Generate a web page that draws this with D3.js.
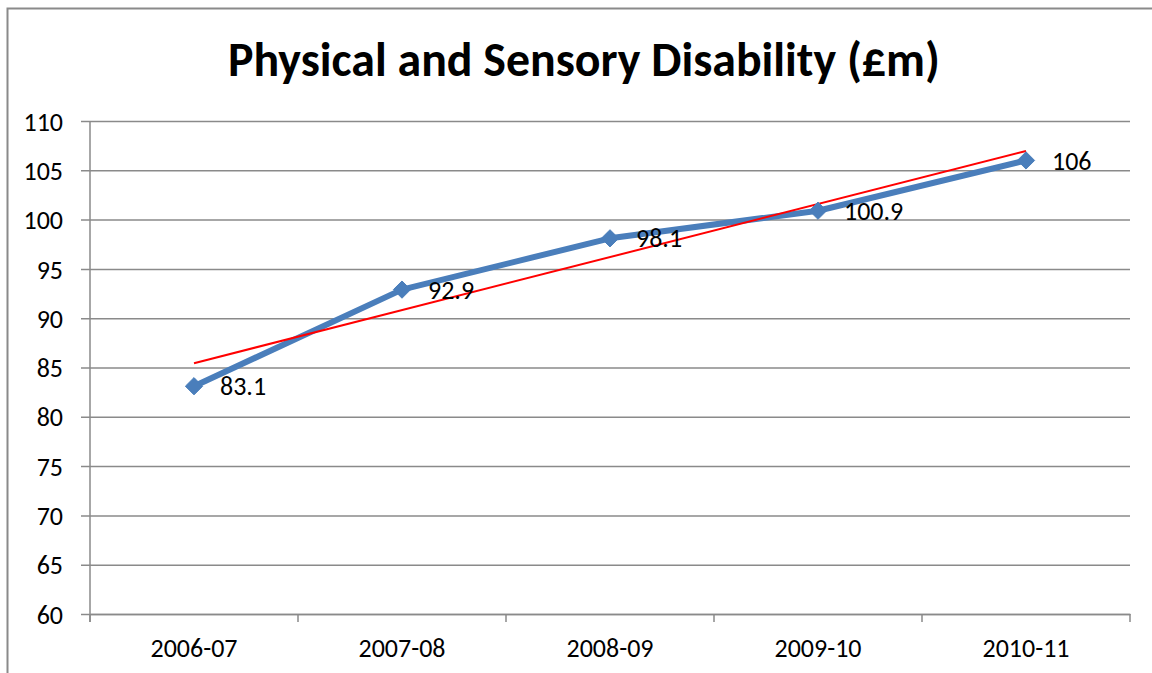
<!DOCTYPE html>
<html>
<head>
<meta charset="utf-8">
<script src="https://cdn.jsdelivr.net/npm/d3@7"></script>
<style>
  html, body { margin: 0; padding: 0; background: #fff; }
  svg { display: block; }
  text { font-family: Carlito, Calibri, Lato, "Open Sans", sans-serif; fill: #000; }
</style>
</head>
<body>
<svg id="chart" width="1152" height="673"></svg>
<script>
// Spending on physical and sensory disability services, £ million
const title = "Physical and Sensory Disability (£m)";
const years = ["2006-07", "2007-08", "2008-09", "2009-10", "2010-11"];
const spend = [83.1, 92.9, 98.1, 100.9, 106];
const yTicks = [60, 65, 70, 75, 80, 85, 90, 95, 100, 105, 110];

const svg = d3.select("#chart");
const W = 1152, H = 673;
const plot = { left: 90, right: 1130, top: 121, bottom: 614 };

const x = d3.scaleBand().domain(years).range([plot.left, plot.right]).padding(0);
const y = d3.scaleLinear().domain([60, 110]).range([plot.bottom, plot.top]);
const cx = d => x(d) + x.bandwidth() / 2;

// Chart area frame (left and top edges visible)
svg.append("path")
  .attr("d", `M7.5,${H} V8.5 H${W}`)
  .attr("fill", "none")
  .attr("stroke", "#8a8a8a")
  .attr("stroke-width", 2);

// Fit a text element to a target width by scaling its font size
function fitWidth(sel, target) {
  const w = sel.node().getComputedTextLength();
  const fs = parseFloat(sel.attr("font-size"));
  sel.attr("font-size", fs * target / w);
}

// Title
const t = svg.append("text")
  .attr("x", 584).attr("y", 76)
  .attr("text-anchor", "middle")
  .attr("font-weight", "bold")
  .attr("font-size", 40)
  .text(title);
fitWidth(t, 712);

// Horizontal gridlines with outward ticks on the left
const yAxis = d3.axisLeft(y).tickValues(yTicks)
  .tickSize(-(plot.right - plot.left)).tickSizeOuter(0).tickPadding(0);
const gy = svg.append("g").attr("transform", `translate(${plot.left},0)`).call(yAxis);
gy.select(".domain").remove();
gy.selectAll(".tick line")
  .attr("x1", -9)
  .attr("stroke", "#8a8a8a").attr("stroke-width", 1.5);
gy.selectAll(".tick text")
  .attr("x", -27)
  .attr("dy", "0.35em")
  .attr("font-size", 22)
  .attr("font-family", null)
  .attr("fill", "#000");

// Vertical axis line
svg.append("line")
  .attr("x1", plot.left).attr("x2", plot.left)
  .attr("y1", plot.top).attr("y2", plot.bottom + 8)
  .attr("stroke", "#8a8a8a").attr("stroke-width", 1.5);

// Category axis with ticks between categories
const gx = svg.append("g").attr("transform", `translate(0,${plot.bottom})`)
  .call(d3.axisBottom(x).tickSize(0).tickPadding(0));
gx.select(".domain")
  .attr("stroke", "#8a8a8a").attr("stroke-width", 1.5);
gx.selectAll(".tick text")
  .attr("y", 43)
  .attr("dy", 0)
  .attr("font-size", 22)
  .attr("font-family", null)
  .attr("fill", "#000");
const bounds = years.map(d => x(d)).concat([plot.right]);
svg.append("g").selectAll("line").data(bounds).join("line")
  .attr("x1", d => d).attr("x2", d => d)
  .attr("y1", plot.bottom).attr("y2", plot.bottom + 8)
  .attr("stroke", "#8a8a8a").attr("stroke-width", 1.5);

// Size tick labels so a category label spans ~87px
const sample = gx.select(".tick text");
const sw = sample.node().getComputedTextLength();
const tickFs = 22 * 87 / sw;
gx.selectAll(".tick text").attr("font-size", tickFs);
gy.selectAll(".tick text").attr("font-size", tickFs);

// Data series
const pts = years.map((d, i) => ({ year: d, v: spend[i] }));
svg.append("path")
  .datum(pts)
  .attr("fill", "none")
  .attr("stroke", "#4a7ebb")
  .attr("stroke-width", 6)
  .attr("stroke-linejoin", "round")
  .attr("d", d3.line().x(d => cx(d.year)).y(d => y(d.v)));

// Linear trendline (least squares over category index)
const n = spend.length;
const idx = d3.range(1, n + 1);
const mx = d3.mean(idx), my = d3.mean(spend);
const slope = d3.sum(idx, (k, i) => (k - mx) * (spend[i] - my)) / d3.sum(idx, k => (k - mx) ** 2);
const icpt = my - slope * mx;
svg.append("line")
  .attr("x1", cx(years[0])).attr("y1", y(icpt + slope * 1))
  .attr("x2", cx(years[n - 1])).attr("y2", y(icpt + slope * n))
  .attr("stroke", "#ff0000").attr("stroke-width", 2);

// Diamond markers
const diamond = d3.symbol().type(d3.symbolDiamond2).size(190);
svg.append("g").selectAll("path").data(pts).join("path")
  .attr("transform", d => `translate(${cx(d.year)},${y(d.v)})`)
  .attr("d", diamond)
  .attr("fill", "#4a7ebb")
  .attr("stroke", "#4a7ebb").attr("stroke-width", 1);

// Value labels
svg.append("g").selectAll("text").data(pts).join("text")
  .attr("x", d => cx(d.year) + 26)
  .attr("y", d => y(d.v))
  .attr("dy", "0.35em")
  .attr("font-size", tickFs)
  .text(d => d.v);
</script>
</body>
</html>
